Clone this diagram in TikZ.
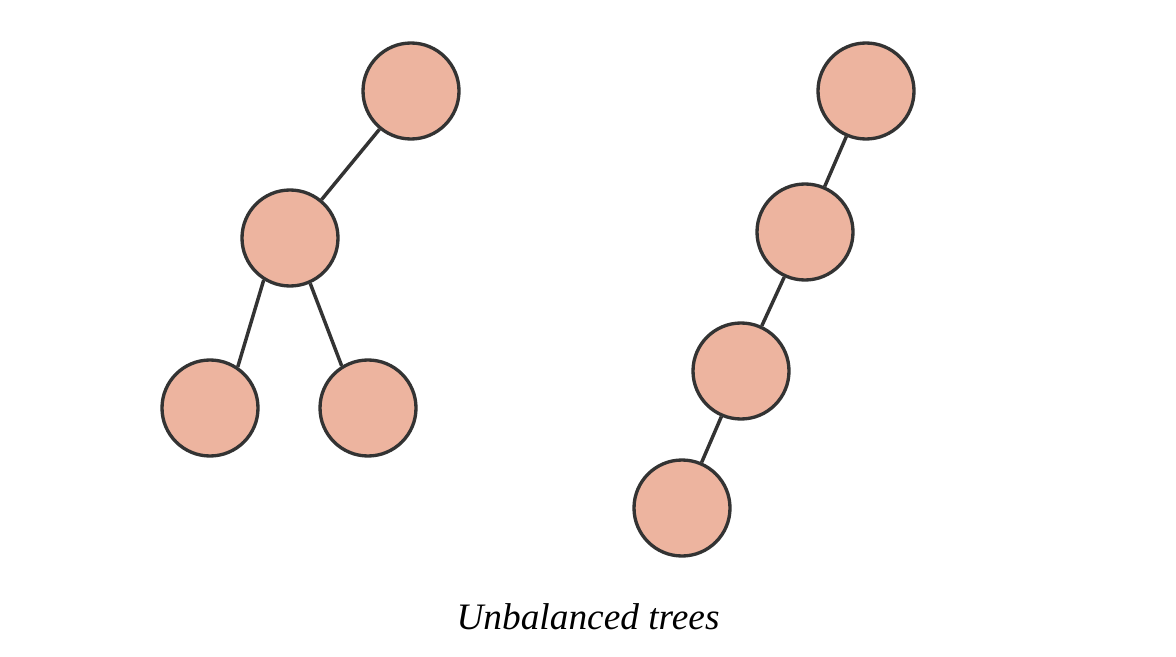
\documentclass[tikz,border=0pt]{standalone}
\usepackage{fontspec}
\setmainfont{Liberation Serif}
\usepackage{tikz}
\definecolor{nodefill}{HTML}{EDB49F}
\definecolor{edgegray}{HTML}{333333}
\tikzstyle{vertex} = [draw=edgegray, fill=nodefill, circle, line width=2.5pt, minimum size=72pt, inner sep=0pt]
\tikzstyle{edge} = [draw=edgegray, line width=2.6pt]

\begin{document}
\begin{tikzpicture}[x=0.75pt, y=-0.75pt]
    \useasboundingbox (0,0) rectangle (1176,656);
    % Left tree
    \node [vertex] (L1) at (411,91) {};
    \node [vertex] (L2) at (290,238) {};
    \node [vertex] (L3) at (210,408) {};
    \node [vertex] (L4) at (368,408) {};

    % Right tree
    \node [vertex] (R1) at (866,91) {};
    \node [vertex] (R2) at (805,232) {};
    \node [vertex] (R3) at (741,371) {};
    \node [vertex] (R4) at (682,508) {};

    % Connectors
    \draw [edge] (L1) -- (L2);
    \draw [edge] (L2.238) -- (L3.56);
    \draw [edge] (L2.294) -- (L4.122);
    \draw [edge] (R1) -- (R2);
    \draw [edge] (R2) -- (R3);
    \draw [edge] (R3) -- (R4);

    % Caption
    \node [anchor=base, inner sep=0pt] (caption) at (588,629)
        {\fontsize{28pt}{33pt}\selectfont\itshape Unbalanced trees};
\end{tikzpicture}
\end{document}
